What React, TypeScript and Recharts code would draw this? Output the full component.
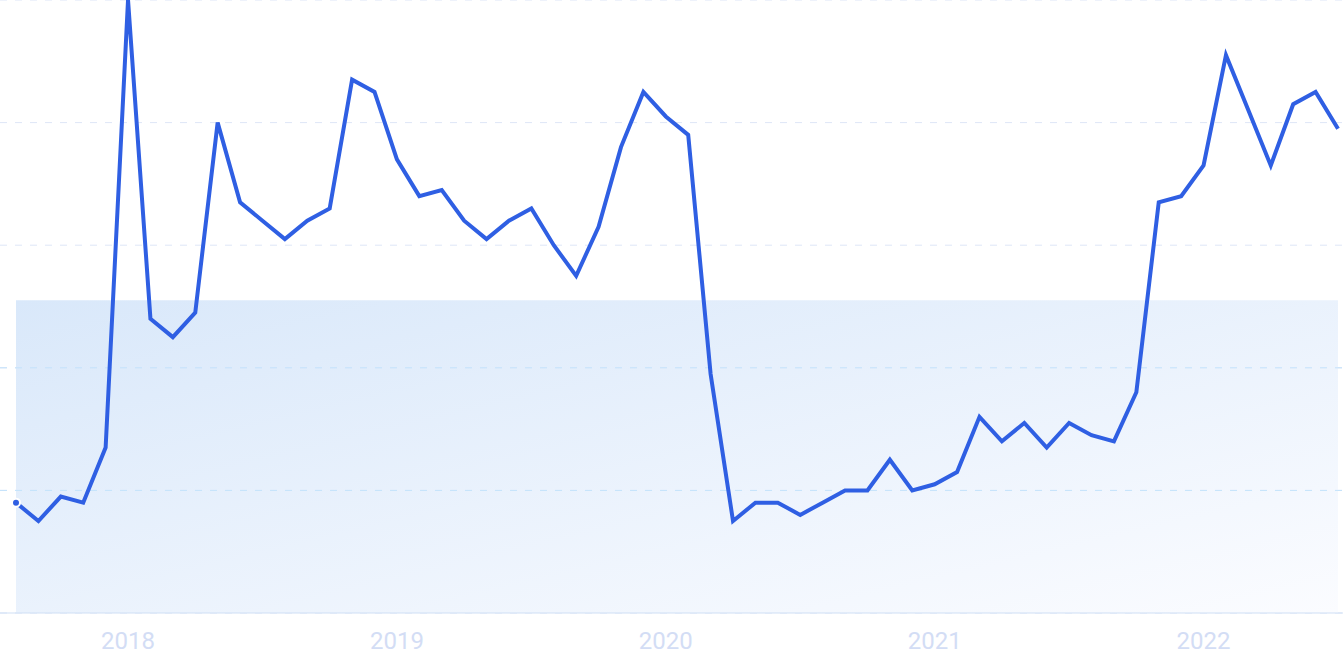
import React from 'react';
import { LineChart, Line, XAxis, YAxis, CartesianGrid, ReferenceArea, ReferenceLine } from 'recharts';

const months = [
  '2017-08', '2017-09', '2017-10', '2017-11', '2017-12',
  '2018-01', '2018-02', '2018-03', '2018-04', '2018-05', '2018-06', '2018-07', '2018-08', '2018-09', '2018-10', '2018-11', '2018-12',
  '2019-01', '2019-02', '2019-03', '2019-04', '2019-05', '2019-06', '2019-07', '2019-08', '2019-09', '2019-10', '2019-11', '2019-12',
  '2020-01', '2020-02', '2020-03', '2020-04', '2020-05', '2020-06', '2020-07', '2020-08', '2020-09', '2020-10', '2020-11', '2020-12',
  '2021-01', '2021-02', '2021-03', '2021-04', '2021-05', '2021-06', '2021-07', '2021-08', '2021-09', '2021-10', '2021-11', '2021-12',
  '2022-01', '2022-02', '2022-03', '2022-04', '2022-05', '2022-06', '2022-07',
];

const interest = [
  18, 15, 19, 18, 27,
  100, 48, 45, 49, 80, 67, 64, 61, 64, 66, 87, 85,
  74, 68, 69, 64, 61, 64, 66, 60, 55, 63, 76, 85,
  81, 78, 39, 15, 18, 18, 16, 18, 20, 20, 25, 20,
  21, 23, 32, 28, 31, 27, 31, 29, 28, 36, 67, 68,
  73, 91, 82, 73, 83, 85, 79,
];

const yearTicks = ['2018-01', '2019-01', '2020-01', '2021-01', '2022-01'];
const valueTicks = [0, 20, 40, 60, 80, 100];
const bandTop = 51;
// grid lines that sit inside the shaded band are drawn again on top of it
const bandGridLines = [20, 40];

const data = months.map((m, i) => ({ month: m, value: interest[i] }));

const App: React.FC = () => {
  return (
    <div style={{ position: 'absolute', left: 0, top: 0, background: '#fff' }}>
      <LineChart width={1343} height={671} data={data} margin={{ top: 0, right: 0, bottom: 0, left: 0 }}>
        <defs>
          <linearGradient id="bandFill" x1="0" y1="0" x2="1" y2="1">
            <stop offset="0%" stopColor="#d9e8fa" />
            <stop offset="100%" stopColor="#fbfcff" />
          </linearGradient>
        </defs>
        <CartesianGrid vertical={false} stroke="#dee6f7" strokeDasharray="7 8" />
        <ReferenceArea
          x1={months[0]}
          x2={months[months.length - 1]}
          y1={0}
          y2={bandTop}
          fill="url(#bandFill)"
          fillOpacity={1}
          stroke="none"
        />
        {bandGridLines.map((v) => (
          <ReferenceLine key={v} y={v} stroke="#c3e2fb" strokeDasharray="7 8" />
        ))}
        <XAxis
          dataKey="month"
          ticks={yearTicks}
          tickFormatter={(v: string) => v.slice(0, 4)}
          height={58}
          padding={{ left: 16, right: 5 }}
          tickLine={false}
          tickSize={0}
          tickMargin={19}
          axisLine={{ stroke: '#cfdff5' }}
          tick={{ fill: '#d3ddf5', fontSize: 24, fontFamily: 'Roboto, sans-serif' }}
        />
        <YAxis hide domain={[0, 100]} ticks={valueTicks} />
        <Line
          type="linear"
          dataKey="value"
          stroke="#2f5fe3"
          strokeWidth={4}
          dot={false}
          isAnimationActive={false}
        />
      </LineChart>
    </div>
  );
};

export default App;
